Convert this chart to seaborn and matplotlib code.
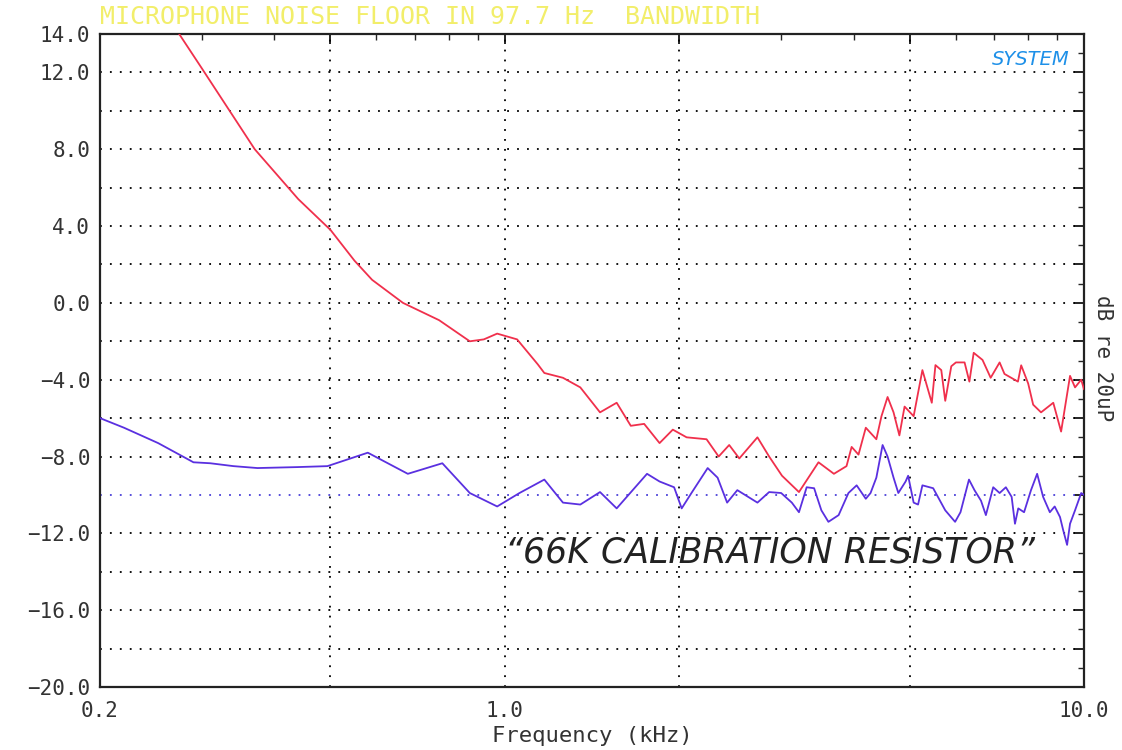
import numpy as np
import pandas as pd
import matplotlib
matplotlib.use("Agg")
import matplotlib.pyplot as plt
import matplotlib.ticker as mticker
import seaborn as sns

# ---- data ----
red_freq = [0.274, 0.30, 0.37, 0.44, 0.50, 0.55, 0.59, 0.667, 0.77, 0.87, 0.92, 0.97, 1.05, 1.14,
            1.17, 1.26, 1.35, 1.46, 1.56, 1.65, 1.74, 1.85, 1.95, 2.06, 2.23, 2.34, 2.44, 2.54,
            2.73, 2.86, 3.01, 3.22, 3.48, 3.70, 3.89, 3.97, 4.08, 4.20, 4.38, 4.47, 4.58, 4.69,
            4.80, 4.90, 5.08, 5.26, 5.46, 5.54, 5.67, 5.76, 5.90, 6.01, 6.22, 6.34, 6.45, 6.68,
            6.90, 7.15, 7.29, 7.69, 7.79, 8.01, 8.17, 8.43, 8.85, 9.13, 9.46, 9.65, 9.89, 10.0]
red_db = [14.0, 12.2, 8.0, 5.4, 3.8, 2.2, 1.2, 0.0, -0.9, -2.0, -1.9, -1.6, -1.9, -3.2,
          -3.65, -3.9, -4.4, -5.7, -5.2, -6.4, -6.3, -7.3, -6.6, -7.0, -7.1, -8.0, -7.4, -8.1,
          -7.0, -8.0, -9.0, -9.85, -8.3, -8.9, -8.5, -7.5, -7.9, -6.5, -7.1, -5.9, -4.9, -5.7,
          -6.9, -5.4, -5.9, -3.5, -5.2, -3.24, -3.5, -5.1, -3.3, -3.1, -3.1, -4.1, -2.6, -2.97,
          -3.9, -3.1, -3.7, -4.1, -3.25, -4.2, -5.3, -5.7, -5.2, -6.7, -3.8, -4.4, -4.0, -4.5]

blue_freq = [0.2, 0.22, 0.252, 0.29, 0.31, 0.34, 0.374, 0.438, 0.494, 0.58, 0.68, 0.78, 0.87, 0.97,
             1.06, 1.17, 1.26, 1.35, 1.46, 1.56, 1.76, 1.85, 1.96, 2.02, 2.10, 2.24, 2.33, 2.42,
             2.52, 2.73, 2.86, 3.0, 3.13, 3.22, 3.32, 3.42, 3.52, 3.62, 3.77, 3.92, 4.05, 4.20,
             4.28, 4.38, 4.49, 4.58, 4.69, 4.78, 4.92, 4.97, 5.08, 5.17, 5.26, 5.49, 5.76, 5.99,
             6.12, 6.33, 6.47, 6.64, 6.77, 6.97, 7.15, 7.33, 7.5, 7.6, 7.7, 7.88, 8.1, 8.3,
             8.5, 8.73, 8.9, 9.09, 9.2, 9.35, 9.46, 9.65, 9.89, 10.0]
blue_db = [-6.0, -6.5, -7.3, -8.3, -8.35, -8.5, -8.6, -8.55, -8.5, -7.8, -8.9, -8.35, -9.9, -10.6,
           -9.9, -9.2, -10.4, -10.5, -9.85, -10.7, -8.9, -9.3, -9.6, -10.7, -9.9, -8.6, -9.1, -10.4,
           -9.75, -10.4, -9.85, -9.9, -10.4, -10.9, -9.6, -9.65, -10.8, -11.4, -11.05, -9.9, -9.5, -10.2,
           -9.9, -9.1, -7.4, -8.0, -9.1, -9.9, -9.3, -9.0, -10.4, -10.5, -9.5, -9.65, -10.8, -11.4,
           -10.9, -9.2, -9.75, -10.3, -11.05, -9.6, -9.9, -9.6, -10.1, -11.5, -10.7, -10.9, -9.75, -8.9,
           -10.1, -10.9, -10.6, -11.15, -11.8, -12.6, -11.5, -10.8, -9.9, -10.0]

series_names = ["microphone", "66K resistor"]
series_colors = ["#f0304c", "#5a30e0"]

y_tick_values = list(range(-20, 15, 2))
y_labelled = [14, 12, 8, 4, 0, -4, -8, -12, -16, -20]
x_major = [0.2, 0.5, 1.0, 2.0, 5.0, 10.0]
x_labels = {0.2: "0.2", 1.0: "1.0", 10.0: "10.0"}

title_text = "MICROPHONE NOISE FLOOR IN 97.7 Hz  BANDWIDTH"
xlabel_text = "Frequency (kHz)"
ylabel_text = "dB re 20uP"
note_text = "\u201c66K CALIBRATION RESISTOR\u201d"
logo_text = "SYSTEM"

df = pd.concat([
    pd.DataFrame({"freq": red_freq, "db": red_db, "series": series_names[0]}),
    pd.DataFrame({"freq": blue_freq, "db": blue_db, "series": series_names[1]}),
], ignore_index=True)

sns.set_style("white")
mono = ["DejaVu Sans Mono"]
plt.rcParams["font.family"] = mono

fig = plt.figure(figsize=(11.22, 7.5), dpi=100)
ax = fig.add_axes([100 / 1122, 1 - 687 / 750, (1084 - 100) / 1122, (687 - 34) / 750])

ax.set_xscale("log")
ax.set_xlim(0.2, 10.0)
ax.set_ylim(-20, 14)

# grid lines
for v in y_tick_values[1:-1]:
    col = "#4a40d8" if v == -10 else "black"
    ax.axhline(v, color=col, lw=1.3, ls=(0, (1, 4.5)), zorder=1)
for v in x_major[1:-1]:
    ax.axvline(v, color="black", lw=1.3, ls=(0, (1, 4.5)), zorder=1)

sns.lineplot(data=df, x="freq", y="db", hue="series", palette=series_colors,
             hue_order=series_names, estimator=None, sort=False, lw=1.3,
             legend=False, ax=ax, zorder=3)

ax.yaxis.set_major_locator(mticker.FixedLocator(y_tick_values))
ax.yaxis.set_major_formatter(mticker.FuncFormatter(
    lambda v, p: (f"{v:.1f}".replace("-", "\u2212") if round(v) in y_labelled else "")))
ax.yaxis.set_minor_locator(mticker.MultipleLocator(1))

ax.xaxis.set_major_locator(mticker.FixedLocator(x_major))
ax.xaxis.set_major_formatter(mticker.FuncFormatter(lambda v, p: x_labels.get(round(v, 1), "")))
ax.xaxis.set_minor_locator(mticker.LogLocator(base=10, subs=np.arange(2, 10) * 1.0))
ax.xaxis.set_minor_formatter(mticker.NullFormatter())

ax.tick_params(axis="both", which="major", direction="in", length=7, width=1.2,
               top=True, right=True, labelsize=15, colors="black", pad=7)
ax.tick_params(axis="both", which="minor", direction="in", length=4, width=1.0,
               top=True, right=True)
ax.tick_params(axis="x", which="major", pad=10)
for lab in ax.get_xticklabels() + ax.get_yticklabels():
    lab.set_color("#333333")

for s in ax.spines.values():
    s.set_color("#222222")
    s.set_linewidth(1.6)

ax.set_xlabel(xlabel_text, fontsize=16, color="#333333", labelpad=4)
ax.set_ylabel("")
fig.text(1103 / 1122, 1 - 358 / 750, ylabel_text, rotation=270, fontsize=15,
         color="#333333", ha="center", va="center")

fig.text(100 / 1122, 1 - 17 / 750, title_text, fontsize=18, color="#f2ee6a",
         ha="left", va="center")

ax.text(0.985, 0.975, logo_text, transform=ax.transAxes, fontsize=14,
        color="#1e90e8", style="italic", ha="right", va="top",
        family=["DejaVu Sans"])

ax.text(1.0, -13.0, note_text, fontsize=25, color="#222222", style="italic",
        ha="left", va="center", family=["DejaVu Sans"], fontweight="light", zorder=4)

fig.savefig("out.png", dpi=100)
